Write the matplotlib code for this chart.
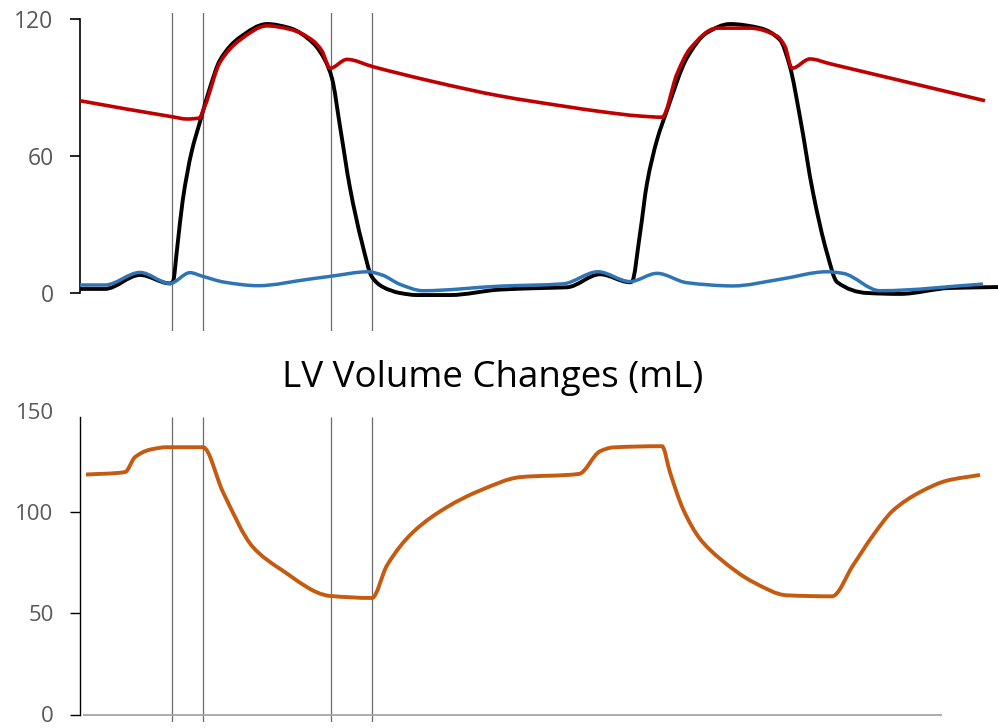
import numpy as np
import matplotlib
matplotlib.use("Agg")
import matplotlib.pyplot as plt
from matplotlib.path import Path
from matplotlib.patches import PathPatch

# ---------------- data (time in arbitrary units, pressure in mmHg, volume in mL) ----------------
lv_time = [0, 25, 60, 90, 93, 97, 102.7, 111.7, 120, 130, 140, 160, 187, 210, 233, 245, 252,
           260, 270, 282, 292, 303, 320, 337, 370, 420, 463, 487, 520, 550, 552, 560, 567,
           577, 587, 607, 627, 650, 680, 700, 710, 720, 733, 747, 757, 787, 820, 870, 918]
lv_pressure = [1.8, 1.8, 7.9, 4.2, 5, 19, 40.5, 62, 75, 90, 102, 112, 117.8, 116, 109.5, 102, 94,
               73, 46, 22, 7, 2.6, 0, -0.9, -0.9, 1.5, 2.2, 2.5, 8.2, 4.7, 5, 26, 48,
               67, 80, 103, 114, 117.8, 116, 110.8, 99, 77, 44, 17.5, 4.8, 0, -0.4, 2.2, 2.6]

aortic_time = [0, 92, 107, 119, 125, 140, 160, 187, 210, 233, 242, 250, 267, 293, 353, 420,
               487, 520, 560, 582, 597, 610, 637, 670, 697, 705, 712, 730, 750, 820, 905]
aortic_pressure = [84.2, 77.2, 76.2, 76.6, 82, 101, 110.8, 117, 115.5, 110.5, 106, 98.4, 102.3, 99.1,
                   92.6, 86.3, 81.6, 79.5, 77.5, 77, 96, 107, 116, 116, 112.5, 108, 98.4, 102.5,
                   100.4, 93.1, 84.2]

atrial_time = [0, 25, 60, 90, 110, 122, 145, 178, 228, 252, 288, 302, 320, 343, 420, 483, 518,
               550, 577, 607, 653, 700, 747, 763, 800, 903]
atrial_pressure = [3.5, 3.5, 9.0, 4.2, 8.9, 7.4, 4.7, 3.2, 6.0, 7.4, 9.3, 7.9, 3.8, 1.0, 3.0, 4.0, 9.3,
                   5.0, 8.6, 4.5, 3.1, 6.0, 9.3, 8.6, 1.0, 3.9]

volume_time = [6, 45, 55, 70, 87, 123, 143, 173, 200, 250, 292, 307, 333, 367, 400, 440, 499,
               520, 533, 582, 590, 603, 620, 640, 673, 707, 752, 773, 793, 813, 840, 867, 900]
volume_ml = [118.6, 119.8, 127.2, 130.9, 132.1, 132.1, 109.9, 82.7, 72, 58.6, 57.6, 73.7, 90.1,
             102.5, 110.7, 117.3, 118.9, 130.1, 132, 132.6, 119.7, 101.6, 86.8, 77, 65.5, 58.9, 58.4,
             73.7, 88.5, 100.8, 109.9, 115.6, 118.4]

event_times = [92, 123, 251, 292]
pressure_ticks = [0, 60, 120]
volume_ticks = [0, 50, 100, 150]
title_text = "LV Volume Changes (mL)"

# ---------------- helpers ----------------
def smooth_path(x, y):
    """Monotone cubic (Fritsch-Carlson) Bezier path through the points."""
    x = np.asarray(x, float)
    y = np.asarray(y, float)
    h = np.diff(x)
    d = np.diff(y) / h
    m = np.zeros_like(y)
    m[0], m[-1] = d[0], d[-1]
    for k in range(1, len(x) - 1):
        if d[k - 1] * d[k] <= 0:
            m[k] = 0.0
        else:
            w1 = 2 * h[k] + h[k - 1]
            w2 = h[k] + 2 * h[k - 1]
            m[k] = (w1 + w2) / (w1 / d[k - 1] + w2 / d[k])
    verts = [(x[0], y[0])]
    codes = [Path.MOVETO]
    for k in range(len(x) - 1):
        verts += [(x[k] + h[k] / 3, y[k] + m[k] * h[k] / 3),
                  (x[k + 1] - h[k] / 3, y[k + 1] - m[k + 1] * h[k] / 3),
                  (x[k + 1], y[k + 1])]
        codes += [Path.CURVE4] * 3
    return Path(verts, codes)


def draw_curve(ax, x, y, color, lw, z):
    ax.add_patch(PathPatch(smooth_path(x, y), fill=False, edgecolor=color, lw=lw,
                           capstyle="butt", joinstyle="round", zorder=z))


FONT = ["Open Sans", "DejaVu Sans"]
plt.rcParams["font.family"] = FONT

W, H = 998, 728
fig = plt.figure(figsize=(W / 100, H / 100), dpi=100)

# ---------------- top: pressures ----------------
s1 = (293 - 19) / 120.0
ax1 = fig.add_axes([80 / W, (H - 331) / H, 918 / W, 318 / H])
ax1.set_xlim(0, 918)
ax1.set_ylim((293 - 331) / s1, (293 - 13) / s1)

draw_curve(ax1, lv_time, lv_pressure, "#000000", 2.8, 3)
draw_curve(ax1, atrial_time, atrial_pressure, "#2E75B6", 2.5, 4)
draw_curve(ax1, aortic_time, aortic_pressure, "#C00000", 2.6, 5)

for t in event_times:
    ax1.axvline(t, color="#6b6b6b", lw=0.9, zorder=1)

for side in ("top", "right", "bottom"):
    ax1.spines[side].set_visible(False)
ax1.spines["left"].set_bounds(0, 120)
ax1.spines["left"].set_linewidth(1.2)
ax1.set_xticks([])
ax1.set_yticks(pressure_ticks)
ax1.set_yticklabels([str(v) for v in pressure_ticks])
ax1.tick_params(axis="y", length=7, width=1.2, color="black", labelsize=16.5,
                labelcolor="#595959", pad=12)

# ---------------- bottom: volume ----------------
y150, y0 = 411.0, 714.5
s2 = (y0 - y150) / 150.0
ax2 = fig.add_axes([80 / W, (H - 722) / H, 918 / W, (722 - y150) / H])
ax2.set_xlim(0, 918)
ybot = -(722 - y0) / s2
ax2.set_ylim(ybot, 150)

draw_curve(ax2, volume_time, volume_ml, "#C55A11", 2.8, 4)
ax2.vlines(event_times, ybot, 147.2, colors="#6b6b6b", lw=0.9, zorder=1)
ax2.hlines(0, 3, 862, colors="#a6a6a6", lw=1.3, zorder=2)

for side in ("top", "right", "bottom"):
    ax2.spines[side].set_visible(False)
ax2.spines["left"].set_bounds(0, 147.2)
ax2.spines["left"].set_linewidth(1.0)
ax2.set_xticks([])
ax2.set_yticks(volume_ticks)
ax2.set_yticklabels([str(v) for v in volume_ticks])
ax2.tick_params(axis="y", length=7, width=1.0, color="black", labelsize=16,
                labelcolor="#595959", pad=12)
ax2.yaxis.get_major_ticks()[-1].tick1line.set_visible(False)

fig.text(492.5 / W, 1 - 386.7 / H, title_text, ha="center", va="baseline",
         fontsize=26.5, color="#000000", family=FONT)

fig.savefig("out.png", dpi=100)
